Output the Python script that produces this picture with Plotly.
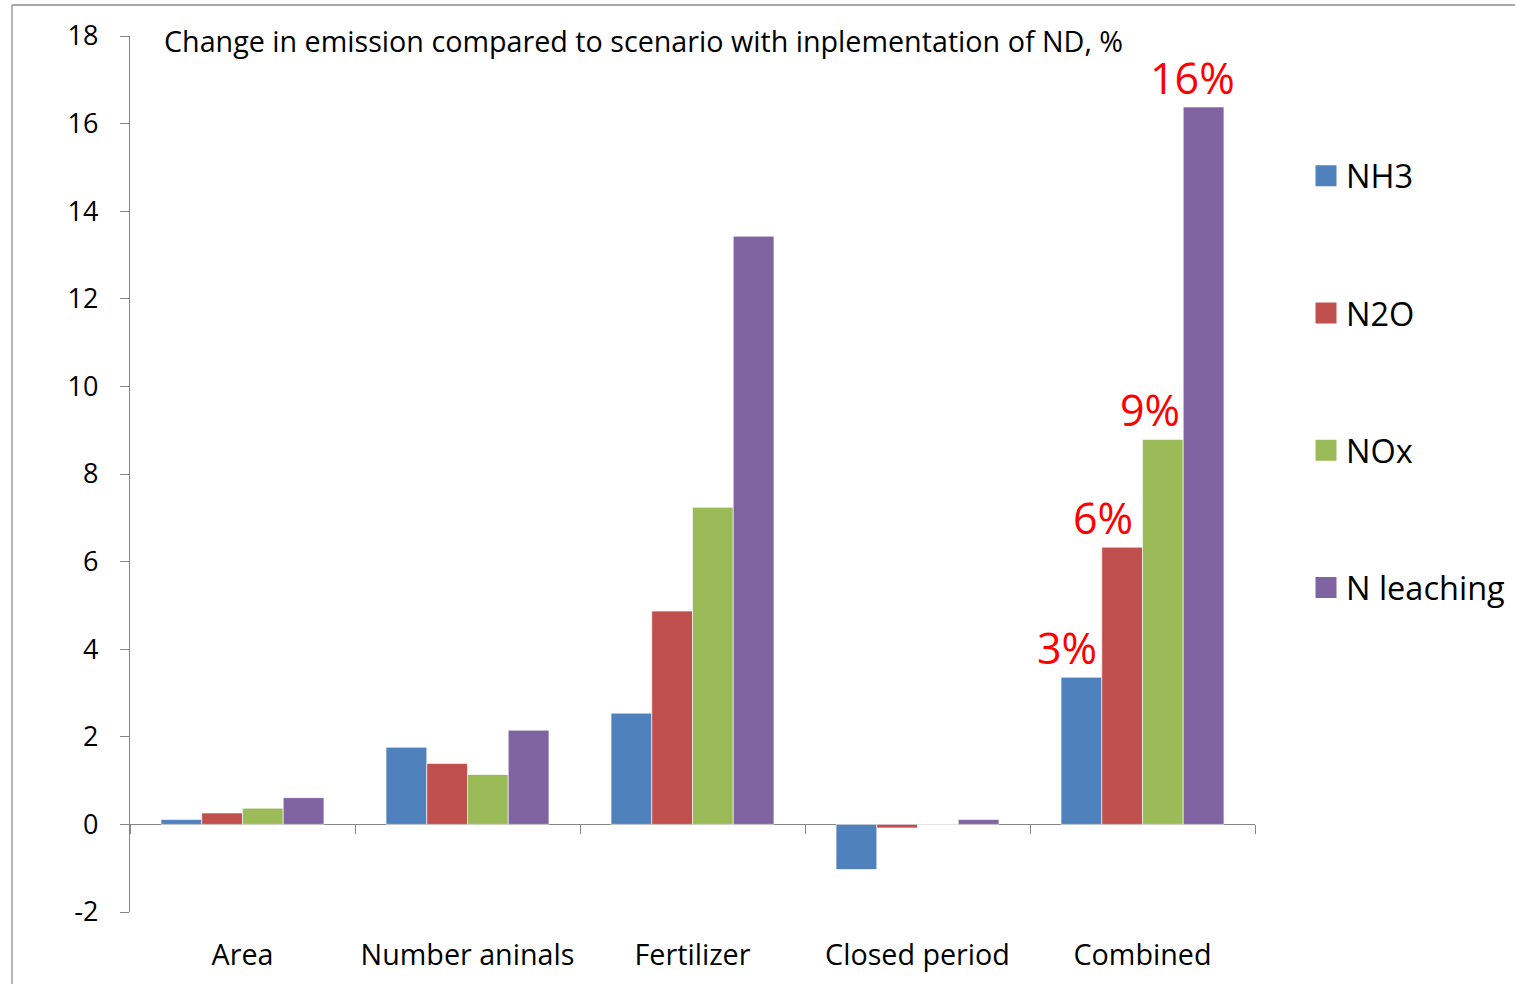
import plotly.graph_objects as go

categories = ["Area", "Number aninals", "Fertilizer", "Closed period", "Combined"]
series_names = ["NH3", "N2O", "NOx", "N leaching"]
nh3 = [0.11, 1.76, 2.54, -1.03, 3.36]
n2o = [0.26, 1.39, 4.87, -0.08, 6.33]
nox = [0.37, 1.14, 7.24, 0.0, 8.79]
n_leaching = [0.61, 2.15, 13.43, 0.11, 16.38]
y_ticks = [-2, 0, 2, 4, 6, 8, 10, 12, 14, 16, 18]
title_text = "Change in emission compared to scenario with inplementation of ND, %"

colors = ["#4F81BD", "#C0504D", "#9BBB59", "#8064A2"]
values = [nh3, n2o, nox, n_leaching]
FONT = "Open Sans"

fig = go.Figure()
for name, vals, col in zip(series_names, values, colors):
    fig.add_trace(go.Bar(
        x=categories, y=vals, name=name, showlegend=False,
        marker=dict(color=col, line=dict(color="rgba(255,255,255,0.6)", width=1)),
    ))
# legend entries (square markers)
for name, col in zip(series_names, colors):
    fig.add_trace(go.Scatter(
        x=[None], y=[None], name=name, mode="markers",
        marker=dict(symbol="square", size=16, color=col, line=dict(color=col, width=5)),
        legendgroup=name, showlegend=True,
    ))
# invisible trace to host the boundary-tick axis at y=0
fig.add_trace(go.Scatter(
    x=categories, y=[0] * len(categories), xaxis="x2", mode="markers",
    marker=dict(opacity=0), showlegend=False, hoverinfo="skip",
))

# red percentage labels on the Combined group
n = len(series_names)
bargap = 0.276
w = (1 - bargap) / n
shifts = [-14, -19, -13, -11]
idx = categories.index("Combined")
annotations = []
for k, vals in enumerate(values):
    v = vals[idx]
    xpos = idx + (k - (n - 1) / 2) * w
    annotations.append(dict(
        x=xpos, y=v, xref="x", yref="y", text=f"{round(v)}%",
        showarrow=False, yanchor="bottom", xanchor="center", xshift=shifts[k], yshift=-2,
        font=dict(family=FONT, size=43, color="#FF0000"),
    ))
annotations.append(dict(
    x=0.028, y=0.9954, xref="paper", yref="paper", text=title_text,
    showarrow=False, xanchor="left", yanchor="middle",
    font=dict(family=FONT, size=28.7, color="#000000"),
))

L, R, T, B = 130, 260, 36, 72
W, H = 1515, 984
pw, ph = W - L - R, H - T - B
def px(xp):
    return (xp - L) / pw
def py(yp):
    return (H - B - yp) / ph

shapes = [
    dict(type="line", xref="paper", yref="paper", x0=px(12), x1=px(12), y0=py(5), y1=py(990),
         line=dict(color="#8C8C8C", width=1.3)),
    dict(type="line", xref="paper", yref="paper", x0=px(12), x1=px(1520), y0=py(5), y1=py(5),
         line=dict(color="#8C8C8C", width=1.3)),
]

axis_gray = "#868686"
fig.update_layout(
    width=W, height=H,
    margin=dict(l=L, r=R, t=T, b=B, autoexpand=False),
    paper_bgcolor="white", plot_bgcolor="white",
    barmode="group", bargap=bargap, bargroupgap=0,
    font=dict(family=FONT, color="#000000"),
    showlegend=True,
    legend=dict(
        x=px(1306), y=py(148), xanchor="left", yanchor="top",
        font=dict(family=FONT, size=32.5, color="#000000"),
        tracegroupgap=92, itemsizing="trace", bgcolor="rgba(0,0,0,0)",
    ),
    xaxis=dict(
        type="category", categoryorder="array", categoryarray=categories,
        range=[-0.5, len(categories) - 0.5],
        showline=False, showgrid=False, zeroline=False, ticks="",
        tickfont=dict(family=FONT, size=28.7, color="#000000"),
        ticklabelstandoff=23,
    ),
    xaxis2=dict(
        type="category", categoryorder="array", categoryarray=categories,
        range=[-0.5, len(categories) - 0.5],
        overlaying="x", anchor="free", position=0.1, side="bottom",
        showline=False, showgrid=False, zeroline=False,
        ticks="outside", tickson="boundaries", ticklen=9, tickwidth=1.3, tickcolor=axis_gray,
        showticklabels=False,
    ),
    yaxis=dict(
        range=[-2, 18], tickvals=y_ticks, ticktext=[str(v) for v in y_ticks], showgrid=False,
        zeroline=True, zerolinecolor=axis_gray, zerolinewidth=1.3,
        showline=True, linecolor=axis_gray, linewidth=1.3,
        ticks="outside", ticklen=9, tickwidth=1.3, tickcolor=axis_gray,
        tickfont=dict(family=FONT, size=27, color="#000000"),
        ticklabelstandoff=16,
    ),
    annotations=annotations,
    shapes=shapes,
)

fig.write_html("out.html")
